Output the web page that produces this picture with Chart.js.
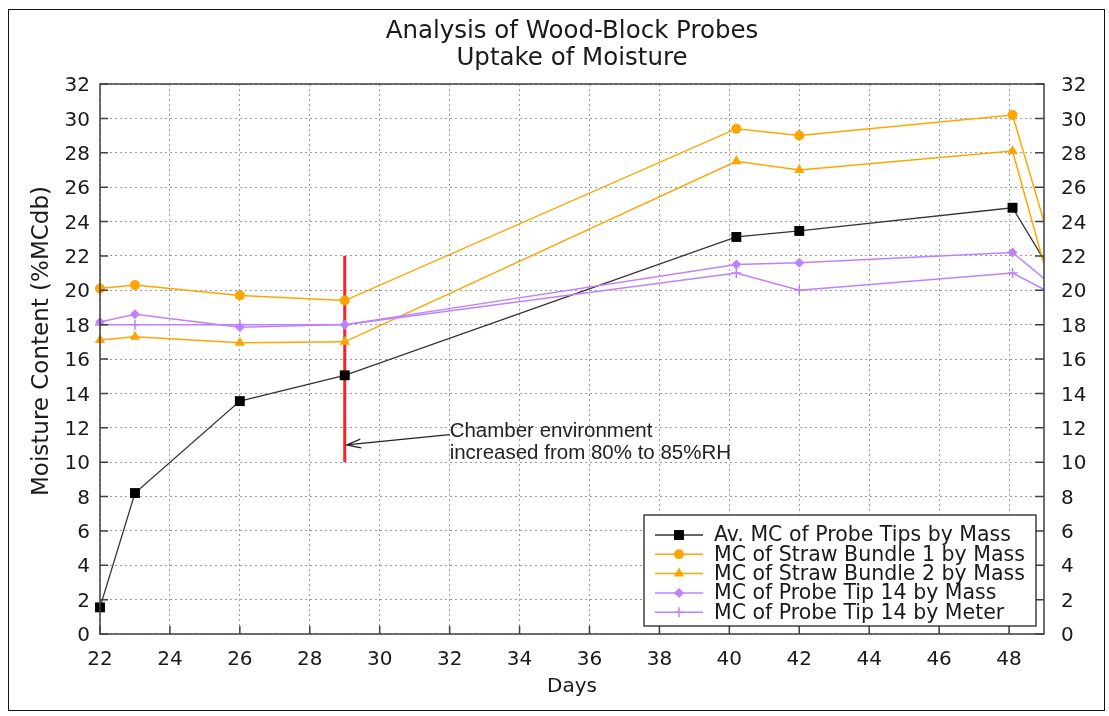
<!DOCTYPE html>
<html>
<head>
<meta charset="utf-8">
<script src="https://cdn.jsdelivr.net/npm/chart.js@4.4.1/dist/chart.umd.min.js"></script>
<style>
  html, body { margin: 0; padding: 0; background: #fff; }
  #wrap { position: absolute; left: 0; top: 0; width: 1109px; height: 716px; }
</style>
</head>
<body>
<div id="wrap"><canvas id="c" width="1109" height="716"></canvas></div>
<script>
// ---- data ----
const days = [22, 23, 26, 29, 40.2, 42, 48.1, 50];
const avMassTips   = [1.55, 8.2, 13.55, 15.05, 23.1, 23.45, 24.8, 18.4];
const strawBundle1 = [20.1, 20.3, 19.7, 19.4, 29.4, 29.0, 30.2, 17.1];
const strawBundle2 = [17.1, 17.3, 16.95, 17.0, 27.5, 27.0, 28.1, 14.2];
const tip14Mass    = [18.15, 18.6, 17.85, 18.0, 21.5, 21.6, 22.2, 19.0];
const tip14Meter   = [18.0, 18.0, 18.0, 18.0, 21.0, 20.0, 21.0, 19.0];
const seriesNames = [
  'Av. MC of Probe Tips by Mass',
  'MC of Straw Bundle 1 by Mass',
  'MC of Straw Bundle 2 by Mass',
  'MC of Probe Tip 14 by Mass',
  'MC of Probe Tip 14 by Meter'
];
const eventDay = [29, 29];
const eventRange = [10, 22];
const titleLines = ['Analysis of Wood-Block Probes', 'Uptake of Moisture'];
const xTitle = 'Days';
const yTitle = 'Moisture Content (%MCdb)';
const noteLines = ['Chamber environment', 'increased from 80% to 85%RH'];
const arrowTail = {x: 32.0, y: 11.6};
const arrowHead = {x: 29.05, y: 11.0};

const toXY = (xs, ys) => xs.map((x, i) => ({x, y: ys[i]}));

const ORANGE = '#FFA500';
const PURPLE = '#BF80FF';
const FONT = "'DejaVu Sans', sans-serif";
const TEXT = '#1a1a1a';

function mk(label, vals, color, style, radius, order, lw) {
  return {
    label, data: toXY(days, vals),
    borderColor: color, backgroundColor: color,
    borderWidth: lw, pointStyle: style, pointRadius: radius, pointHoverRadius: radius,
    pointBorderWidth: style === 'cross' ? 1.5 : 0,
    pointBorderColor: color, pointBackgroundColor: color,
    tension: 0, order,
    clip: {left: 12, right: 0, top: 12, bottom: 12}
  };
}

const datasets = [
  mk(seriesNames[0], avMassTips, '#333333', 'rect', 7, 5, 1.3),
  mk(seriesNames[1], strawBundle1, ORANGE, 'circle', 5, 4, 1.5),
  mk(seriesNames[2], strawBundle2, ORANGE, 'triangle', 6, 3, 1.5),
  mk(seriesNames[3], tip14Mass, PURPLE, 'rectRot', 5, 2, 1.5),
  mk(seriesNames[4], tip14Meter, PURPLE, 'cross', 5, 1, 1.5),
  {
    label: 'event', data: toXY(eventDay, eventRange),
    borderColor: '#ff2020', borderWidth: 3, pointRadius: 0, order: 10,
    clip: {left: 12, right: 0, top: 12, bottom: 12}
  }
];
datasets[0].pointBackgroundColor = '#000';
datasets[0].pointBorderColor = '#000';

const decor = {
  id: 'decor',
  beforeDraw(chart) {
    const ctx = chart.ctx;
    const a = chart.chartArea;
    ctx.save();
    ctx.fillStyle = '#fff';
    ctx.fillRect(0, 0, chart.width, chart.height);
    ctx.strokeStyle = '#111';
    ctx.lineWidth = 1;
    ctx.strokeRect(8.5, 9.5, 1096, 701);
    // title, centred over the plot area
    ctx.fillStyle = TEXT;
    ctx.font = '24.5px ' + FONT;
    ctx.textAlign = 'center';
    ctx.textBaseline = 'middle';
    const cx = (a.left + a.right) / 2;
    ctx.fillText(titleLines[0], cx, 32);
    ctx.fillText(titleLines[1], cx, 59);
    // y axis title
    ctx.translate(42, 341);
    ctx.rotate(-Math.PI / 2);
    ctx.font = '23px ' + FONT;
    ctx.fillText(yTitle, 0, 0);
    ctx.restore();
  },
  afterDatasetsDraw(chart) {
    const ctx = chart.ctx;
    const a = chart.chartArea;
    const xs = chart.scales.x, ys = chart.scales.y;
    ctx.save();
    // frame
    ctx.strokeStyle = '#404040';
    ctx.lineWidth = 1.5;
    ctx.strokeRect(a.left, a.top, a.right - a.left, a.bottom - a.top);
    // inward ticks
    ctx.beginPath();
    ys.ticks.forEach(t => {
      const py = ys.getPixelForValue(t.value);
      ctx.moveTo(a.left, py); ctx.lineTo(a.left + 8, py);
      ctx.moveTo(a.right, py); ctx.lineTo(a.right - 9, py);
    });
    xs.ticks.forEach(t => {
      const px = xs.getPixelForValue(t.value);
      ctx.moveTo(px, a.bottom); ctx.lineTo(px, a.bottom - 8);
    });
    ctx.stroke();

    // annotation arrow
    const tx = xs.getPixelForValue(arrowTail.x), ty = ys.getPixelForValue(arrowTail.y);
    const hx = xs.getPixelForValue(arrowHead.x), hy = ys.getPixelForValue(arrowHead.y);
    ctx.strokeStyle = '#222';
    ctx.lineWidth = 1.2;
    ctx.beginPath();
    ctx.moveTo(tx, ty); ctx.lineTo(hx, hy);
    const ang = Math.atan2(ty - hy, tx - hx);
    const L = 15, sp = 0.3;
    ctx.moveTo(hx + L * Math.cos(ang + sp), hy + L * Math.sin(ang + sp));
    ctx.lineTo(hx, hy);
    ctx.lineTo(hx + L * Math.cos(ang - sp), hy + L * Math.sin(ang - sp));
    ctx.stroke();
    ctx.fillStyle = '#222';
    ctx.font = "20.5px 'Liberation Sans', Arial, sans-serif";
    ctx.textAlign = 'left';
    ctx.textBaseline = 'alphabetic';
    ctx.fillText(noteLines[0], tx, ty + 2);
    ctx.fillText(noteLines[1], tx, ty + 24);

    // legend
    const bw = 392, bh = 111;
    const bx = a.right - 8 - bw, by = a.bottom - 8 - bh;
    ctx.fillStyle = '#fff';
    ctx.fillRect(bx, by, bw, bh);
    ctx.strokeStyle = '#111';
    ctx.lineWidth = 1.2;
    ctx.strokeRect(bx, by, bw, bh);
    ctx.font = '20.5px ' + FONT;
    ctx.textBaseline = 'middle';
    for (let i = 0; i < 5; i++) {
      const ds = chart.data.datasets[i];
      const cy = by + 20 + i * 19.3;
      ctx.strokeStyle = ds.borderColor;
      ctx.lineWidth = ds.borderWidth;
      ctx.beginPath();
      ctx.moveTo(bx + 11, cy); ctx.lineTo(bx + 59, cy);
      ctx.stroke();
      ctx.fillStyle = ds.pointBackgroundColor;
      ctx.strokeStyle = ds.pointBorderColor;
      ctx.lineWidth = ds.pointStyle === 'cross' ? 1.5 : 0.01;
      Chart.helpers.drawPoint(ctx, {pointStyle: ds.pointStyle, radius: ds.pointRadius, rotation: 0, borderWidth: ds.pointStyle === 'cross' ? 1.5 : 0}, bx + 35, cy);
      ctx.fillStyle = TEXT;
      ctx.fillText(ds.label, bx + 70, cy + 1);
    }
    ctx.restore();
  }
};

const tickFont = {family: FONT, size: 20};
new Chart(document.getElementById('c'), {
  type: 'line',
  data: {datasets},
  options: {
    responsive: false,
    animation: false,
    events: [],
    layout: {padding: {top: 84, left: 0, right: 0, bottom: 0}},
    plugins: {
      legend: {display: false},
      tooltip: {enabled: false},
      title: {display: false}
    },
    scales: {
      x: {
        type: 'linear', position: 'bottom', min: 22, max: 49,
        ticks: {stepSize: 2, includeBounds: false, font: tickFont, color: TEXT, padding: 14, maxRotation: 0, autoSkip: false},
        grid: {color: '#9a9a9a', lineWidth: 1, drawTicks: false},
        border: {display: false, dash: [2, 3]},
        title: {display: true, text: xTitle, color: TEXT, font: {family: FONT, size: 20}, padding: {top: 0, bottom: 17}},
        afterFit: s => { s.height = 82; }
      },
      y: {
        type: 'linear', position: 'left', min: 0, max: 32,
        ticks: {stepSize: 2, font: tickFont, color: TEXT, padding: 10, labelOffset: 2},
        grid: {color: '#9a9a9a', lineWidth: 1, drawTicks: false},
        border: {display: false, dash: [2, 3]},
        title: {display: false},
        afterFit: s => { s.width = 100; }
      },
      y2: {
        type: 'linear', position: 'right', min: 0, max: 32,
        ticks: {stepSize: 2, font: tickFont, color: TEXT, padding: 17, labelOffset: 2},
        grid: {display: false, drawTicks: false},
        border: {display: false},
        afterFit: s => { s.width = 65; }
      }
    }
  },
  plugins: [decor]
});
</script>
</body>
</html>
